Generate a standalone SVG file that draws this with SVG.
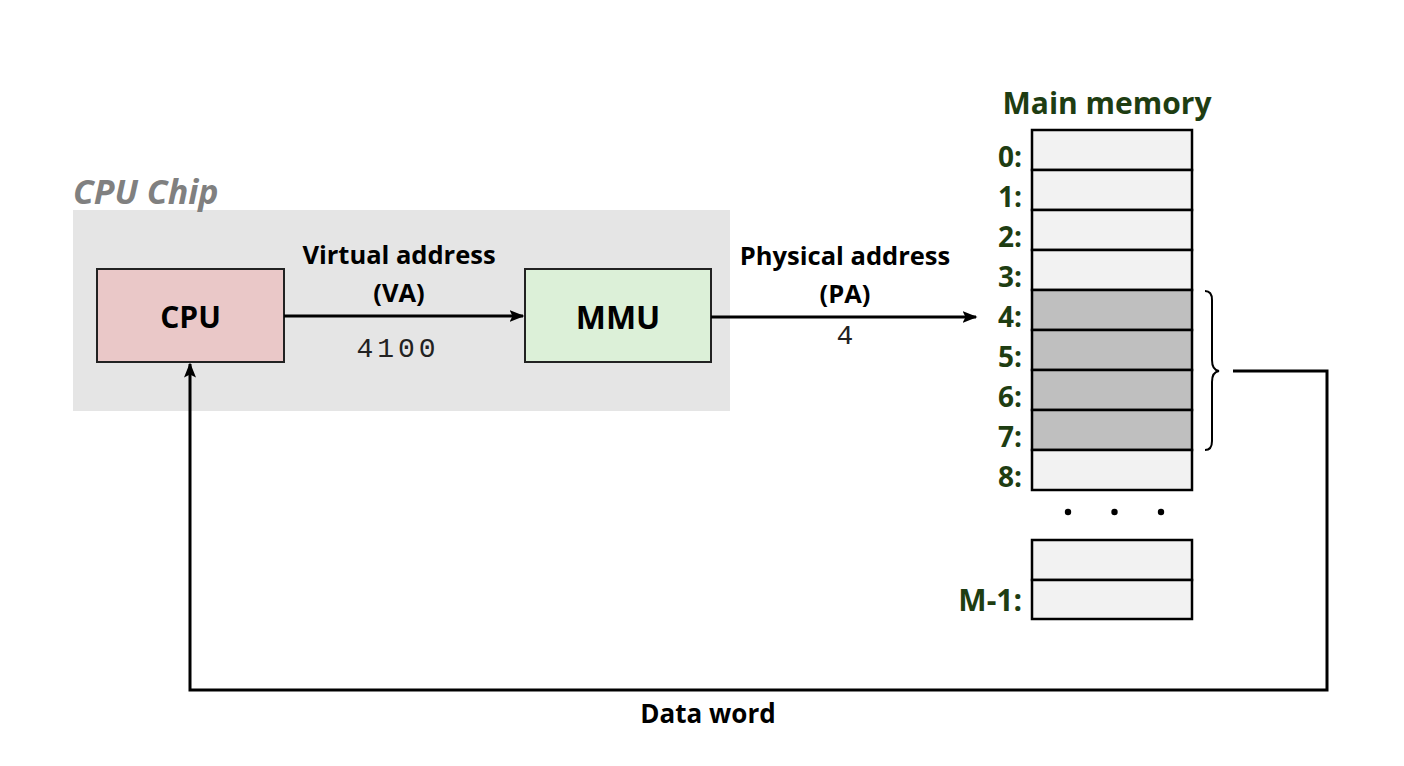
<svg xmlns="http://www.w3.org/2000/svg" width="1404" height="766" viewBox="0 0 1404 766">
<defs>
<style>
.lbl{font-family:"Open Sans","Liberation Sans",sans-serif;font-weight:bold;fill:#000}
.num{font-family:"Liberation Mono",monospace;fill:#222}
.addr{font-family:"Open Sans","Liberation Sans",sans-serif;font-weight:bold;fill:#1e3d12;font-size:28px;text-anchor:end}
.cell{fill:#f2f2f2;stroke:#000;stroke-width:2.5}
.cellg{fill:#bfbfbf;stroke:#000;stroke-width:2.5}
.conn{fill:none;stroke:#000;stroke-width:3}
</style>
<marker id="ah" viewBox="0 0 10 10" refX="9" refY="5" markerWidth="5" markerHeight="5" orient="auto" markerUnits="strokeWidth">
<path d="M0,1 L10,5 L0,9 L2,5 z" fill="#000"/>
</marker>
</defs>
<rect width="1404" height="766" fill="#fff"/>
<g id="cpu-chip">
<rect x="73" y="210" width="657" height="201" fill="#e5e5e5"/>
<text x="73" y="204" font-family="Open Sans,Liberation Sans,sans-serif" font-weight="bold" font-style="italic" font-size="34" fill="#808080">CPU Chip</text>
</g>
<g id="cpu">
<rect x="97" y="269" width="187" height="93" fill="#eac8c8" stroke="#222" stroke-width="2"/>
<text class="lbl" x="190.5" y="328" font-size="30" text-anchor="middle">CPU</text>
</g>
<g id="mmu">
<rect x="525" y="269" width="186" height="93" fill="#dcf0d8" stroke="#222" stroke-width="2"/>
<text class="lbl" x="618" y="329" font-size="32" text-anchor="middle">MMU</text>
</g>
<g id="memory">
<text class="lbl" x="1107" y="114" font-size="30" text-anchor="middle" style="fill:#1e3d12">Main memory</text>
<rect class="cell" x="1032" y="130" width="160" height="40"/>
<rect class="cell" x="1032" y="170" width="160" height="40"/>
<rect class="cell" x="1032" y="210" width="160" height="40"/>
<rect class="cell" x="1032" y="250" width="160" height="40"/>
<rect class="cellg" x="1032" y="290" width="160" height="40"/>
<rect class="cellg" x="1032" y="330" width="160" height="40"/>
<rect class="cellg" x="1032" y="370" width="160" height="40"/>
<rect class="cellg" x="1032" y="410" width="160" height="40"/>
<rect class="cell" x="1032" y="450" width="160" height="40"/>
<rect class="cell" x="1032" y="540" width="160" height="40"/>
<rect class="cell" x="1032" y="580" width="160" height="39"/>
<text class="addr" x="1022" y="167">0:</text>
<text class="addr" x="1022" y="207">1:</text>
<text class="addr" x="1022" y="247">2:</text>
<text class="addr" x="1022" y="287">3:</text>
<text class="addr" x="1022" y="327">4:</text>
<text class="addr" x="1022" y="367">5:</text>
<text class="addr" x="1022" y="407">6:</text>
<text class="addr" x="1022" y="447">7:</text>
<text class="addr" x="1022" y="487">8:</text>
<text class="addr" x="1022" y="611" style="font-size:30px">M-1:</text>
<circle cx="1068" cy="512" r="3.2" fill="#000"/>
<circle cx="1114.5" cy="512" r="3.2" fill="#000"/>
<circle cx="1161" cy="512" r="3.2" fill="#000"/>
<path d="M1205,291 Q1212,291 1212,300 L1212,360 Q1212,370 1219,371 Q1212,372 1212,382 L1212,441 Q1212,450 1205,450" fill="none" stroke="#000" stroke-width="2"/>
</g>
<g id="connectors">
<line class="conn" x1="284" y1="316" x2="523" y2="316" marker-end="url(#ah)"/>
<line class="conn" x1="711" y1="317" x2="976" y2="317" marker-end="url(#ah)"/>
<polyline class="conn" points="1233,371 1327,371 1327,690 190,690 190,364" stroke-width="3.5" marker-end="url(#ah)"/>
<text class="lbl" x="399" y="264" font-size="25.5" text-anchor="middle">Virtual address</text>
<text class="lbl" x="399" y="302" font-size="25.5" text-anchor="middle">(VA)</text>
<text class="num" x="398" y="357" font-size="28" letter-spacing="4" text-anchor="middle">4100</text>
<text class="lbl" x="845" y="265" font-size="25.5" text-anchor="middle">Physical address</text>
<text class="lbl" x="845" y="303" font-size="25.5" text-anchor="middle">(PA)</text>
<text class="num" x="845" y="344" font-size="28" text-anchor="middle">4</text>
<text class="lbl" x="708" y="723" font-size="26" text-anchor="middle">Data word</text>
</g>
</svg>
